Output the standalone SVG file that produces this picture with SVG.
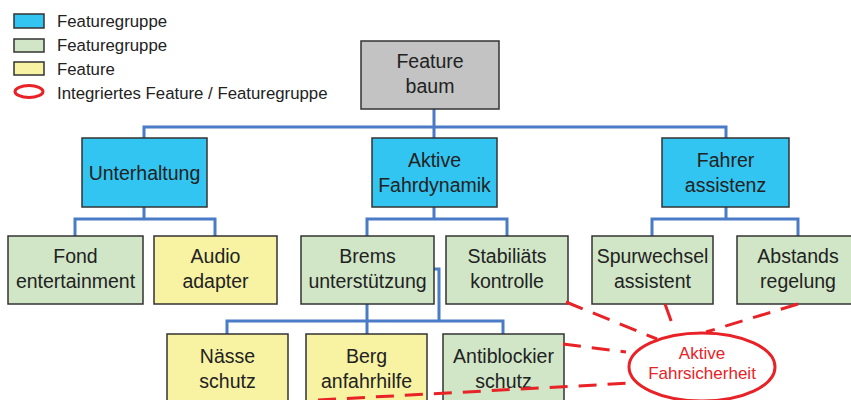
<svg xmlns="http://www.w3.org/2000/svg" width="851" height="400" viewBox="0 0 851 400">
  <style>
    .box { stroke: #333; stroke-width: 1.5; }
    .grp { fill: #33c5f1; }
    .sub { fill: #d0e6c6; }
    .feat { fill: #f8f3a2; }
    .root { fill: #c3c3c3; }
    .t { font-family: "Liberation Sans", Arial, sans-serif; font-size: 19.5px; fill: #222; text-anchor: middle; }
    .lg { font-family: "Liberation Sans", Arial, sans-serif; font-size: 16.8px; fill: #222; }
    .conn { fill: none; stroke: #4a7bc6; stroke-width: 3; }
    .dash { fill: none; stroke: #e82226; stroke-width: 3; stroke-dasharray: 18 11; }
    .integ { fill: none; stroke: #e82226; stroke-width: 3; }
    .it { font-family: "Liberation Sans", Arial, sans-serif; font-size: 17px; fill: #e82226; text-anchor: middle; }
  </style>

  <!-- legend -->
  <g id="legend">
    <rect class="box grp" x="14" y="14" width="30" height="14"/>
    <text class="lg" x="57" y="27">Featuregruppe</text>
    <rect class="box sub" x="14" y="39" width="30" height="13"/>
    <text class="lg" x="57" y="51">Featuregruppe</text>
    <rect class="box feat" x="14" y="62" width="30" height="13"/>
    <text class="lg" x="57" y="75">Feature</text>
    <ellipse class="integ" cx="29" cy="91.5" rx="14" ry="6"/>
    <text class="lg" x="57" y="99">Integriertes Feature / Featuregruppe</text>
  </g>

  <!-- tree connectors -->
  <g id="connectors">
    <path class="conn" d="M434 109 V138 M144 138 V127 H726 V138"/>
    <path class="conn" d="M144 207 V219 M75 236 V219 H215 V236"/>
    <path class="conn" d="M434 207 V219 M367 236 V219 H507 V236"/>
    <path class="conn" d="M726 207 V219 M652 236 V219 H798 V236"/>
    <path class="conn" d="M367 304 V334 M227 334 V321 H503 V334"/>
    <path class="conn" d="M434 269 H439 V321"/>
  </g>

  <g id="n-root">
    <rect class="box root" x="361" y="41" width="138" height="68"/>
    <text class="t" x="430" y="68">Feature</text>
    <text class="t" x="430" y="93">baum</text>
  </g>

  <g id="n-unterhaltung">
    <rect class="box grp" x="82" y="138" width="125" height="69"/>
    <text class="t" x="144.5" y="180">Unterhaltung</text>
  </g>
  <g id="n-fahrdynamik">
    <rect class="box grp" x="372" y="138" width="125" height="69"/>
    <text class="t" x="434.5" y="167">Aktive</text>
    <text class="t" x="434.5" y="192">Fahrdynamik</text>
  </g>
  <g id="n-fahrerassistenz">
    <rect class="box grp" x="662" y="138" width="127" height="69"/>
    <text class="t" x="725.5" y="167">Fahrer</text>
    <text class="t" x="725.5" y="192">assistenz</text>
  </g>

  <g id="n-fond">
    <rect class="box sub" x="8" y="236" width="135" height="68"/>
    <text class="t" x="75.5" y="263">Fond</text>
    <text class="t" x="75.5" y="288">entertainment</text>
  </g>
  <g id="n-audio">
    <rect class="box feat" x="154" y="236" width="123" height="68"/>
    <text class="t" x="215.5" y="263">Audio</text>
    <text class="t" x="215.5" y="288">adapter</text>
  </g>
  <g id="n-brems">
    <rect class="box sub" x="301" y="236" width="133" height="68"/>
    <text class="t" x="367.5" y="263">Brems</text>
    <text class="t" x="367.5" y="288">unterstützung</text>
  </g>
  <g id="n-stabil">
    <rect class="box sub" x="446" y="236" width="122" height="68"/>
    <text class="t" x="507" y="263">Stabiliäts</text>
    <text class="t" x="507" y="288">kontrolle</text>
  </g>
  <g id="n-spurwechsel">
    <rect class="box sub" x="592" y="236" width="121" height="68"/>
    <text class="t" x="652.5" y="263">Spurwechsel</text>
    <text class="t" x="652.5" y="288">assistent</text>
  </g>
  <g id="n-abstand">
    <rect class="box sub" x="737" y="236" width="123" height="68"/>
    <text class="t" x="798" y="263">Abstands</text>
    <text class="t" x="798" y="288">regelung</text>
  </g>

  <g id="n-naesse">
    <rect class="box feat" x="167" y="334" width="121" height="80"/>
    <text class="t" x="227.5" y="363">Nässe</text>
    <text class="t" x="227.5" y="388">schutz</text>
  </g>
  <g id="n-berg">
    <rect class="box feat" x="306" y="334" width="121" height="80"/>
    <text class="t" x="366.5" y="363">Berg</text>
    <text class="t" x="366.5" y="388">anfahrhilfe</text>
  </g>
  <g id="n-abs">
    <rect class="box sub" x="443" y="334" width="121" height="80"/>
    <text class="t" x="503.5" y="363">Antiblockier</text>
    <text class="t" x="503.5" y="388">schutz</text>
  </g>

  <!-- integration links -->
  <g id="integration-links">
    <path class="dash" d="M566 302 L657 339"/>
    <path class="dash" d="M665 304 L673 326"/>
    <path class="dash" d="M798 304 L706 332"/>
    <path class="dash" d="M563 344 L626 352"/>
    <path class="dash" d="M318 400 L632 383"/>
  </g>

  <g id="n-sicherheit">
    <ellipse class="integ" cx="702" cy="367" rx="73" ry="34"/>
    <text class="it" x="702" y="359">Aktive</text>
    <text class="it" x="702" y="379">Fahrsicherheit</text>
  </g>
</svg>
